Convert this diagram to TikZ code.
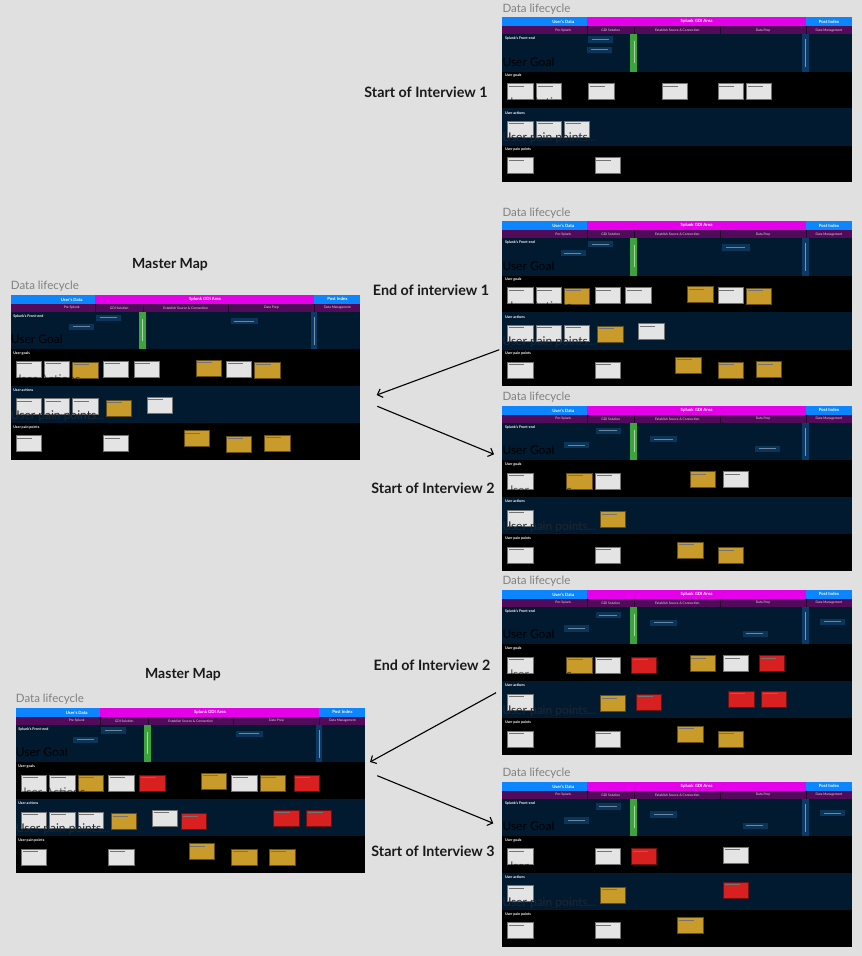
\documentclass[tikz,border=0pt]{standalone}
\usepackage{fontspec}
\setmainfont{Lato}
\usetikzlibrary{arrows.meta}
\definecolor{bg}{HTML}{E0E0E0}
\definecolor{hblue}{HTML}{0D85FF}
\definecolor{hmag}{HTML}{E400E8}
\definecolor{hpur}{HTML}{520A5A}
\definecolor{navy}{HTML}{021A2F}
\definecolor{navyb}{HTML}{0A3558}
\definecolor{sgray}{HTML}{E4E4E4}
\definecolor{sgold}{HTML}{C99B2B}
\definecolor{sred}{HTML}{D82020}
\definecolor{gbar}{HTML}{3DA33D}
\definecolor{vbar}{HTML}{0B3A66}
\definecolor{ghostp}{HTML}{1E2731}
\newcounter{nn}
\tikzset{
 stk/.style={rectangle, line width=0.5pt, minimum width=25.3pt, minimum height=16pt, anchor=north west, inner sep=0pt},
 sline/.style={line width=0.35pt, draw=black!55},
 fe/.style={rectangle, fill=navyb, minimum height=6.5pt, anchor=north west, inner sep=0pt},
 fline/.style={line width=0.3pt, draw=white!40!navyb},
 hdr/.style={text=white, font=\fontsize{4.3}{5}\selectfont\bfseries, inner sep=0pt},
 subh/.style={text=white!85!hpur, font=\fontsize{3.3}{4}\selectfont, inner sep=0pt},
 rowlab/.style={text=white, font=\fontsize{3.6}{4}\selectfont\bfseries, anchor=west, inner sep=0pt},
 ghost/.style={font=\fontsize{12}{14}\selectfont, anchor=west, inner sep=0pt},
 ptitle/.style={text=black!50, font=\fontsize{11.5}{13}\selectfont, anchor=west, inner sep=0pt},
 lab/.style={text=black!90, font=\fontsize{14.3}{16}\selectfont\bfseries, inner sep=0pt},
 mlab/.style={text=black!90, font=\fontsize{14}{16}\selectfont\bfseries, inner sep=0pt},
 flow/.style={line width=1.1pt, -{Straight Barb[length=4.5pt,width=9pt]}},
}
\newcommand\stk[3]{\stepcounter{nn}\node[stk,fill=#1,draw=#1!50!black] (s\arabic{nn}) at (#2,#3) {};\draw[sline] ([shift={(1.5pt,-2.5pt)}]s\arabic{nn}.north west) -- ++(15,0);}
\newcommand\sG[2]{\stk{sgray}{#1}{#2}}
\newcommand\sY[2]{\stk{sgold}{#1}{#2}}
\newcommand\sR[2]{\stk{sred}{#1}{#2}}
\newcommand\sF[3][25]{\stepcounter{nn}\node[fe,minimum width=#1pt] (f\arabic{nn}) at (#2,#3) {};\draw[fline] ([shift={(4pt,-3.25pt)}]f\arabic{nn}.north west) -- ++({#1-8},0);}
\newcommand\lifepanel[4]{%
\begin{scope}[shift={(#1,#2)}]
 \node[ptitle] (#3-t) at (0,-8.5) {Data lifecycle};
 \fill[hblue] (0,0) rectangle (349.7,8.7);
 \fill[hmag] (84.7,0) rectangle (303.7,8.7);
 \fill[hpur] (0,8.7) rectangle (349.7,17);
 \draw[black!55!hpur, line width=0.4pt] (84.7,8.7) -- (84.7,17) (132.3,8.7) -- (132.3,17) (217.7,8.7) -- (217.7,17) (303.7,8.7) -- (303.7,17);
 \fill[navy] (0,17) rectangle (349.7,54.3);
 \fill[black] (0,54.3) rectangle (349.7,91);
 \fill[navy] (0,91) rectangle (349.7,128.3);
 \fill[black] (0,128.3) rectangle (349.7,165);
 \fill[gbar] (128,17) rectangle (135,54.3);
 \draw[white!55!gbar, line width=0.3pt] (131.5,24) -- (131.5,46);
 \fill[vbar] (300,17) rectangle (306.7,54.3);
 \draw[white!45!vbar, line width=0.3pt] (303.3,22) -- (303.3,50);
 \node[hdr] (#3-ud) at (61,4.4) {User's Data};
 \node[hdr] (#3-ga) at (194.3,4.4) {Splunk GDI Area};
 \node[hdr] (#3-pi) at (326.7,4.4) {Post Index};
 \node[subh] (#3-ps) at (61,12.9) {Pre-Splunk};
 \node[subh] (#3-gs) at (108.5,12.9) {GDI Solution};
 \node[subh] (#3-es) at (175,12.9) {Establish Source \& Connection};
 \node[subh] (#3-dp) at (260.7,12.9) {Data Prep};
 \node[subh] (#3-dm) at (326.7,12.9) {Data Management};
 \node[rowlab] (#3-rf) at (2.5,21) {Splunk's Front-end};
 \node[rowlab] (#3-rg) at (2.5,58.5) {User goals};
 \node[rowlab] (#3-ra) at (2.5,95.5) {User actions};
 \node[rowlab] (#3-rp) at (2.5,132.5) {User pain points};
 \node[ghost,text=black] (#3-xg) at (0,44.5) {User Goal};
 #4
 \node[ghost,text=black,opacity=0.6] (#3-xa) at (2,84.5) {User Actions};
 \node[ghost,text=ghostp] (#3-xp) at (0,121) {User pain points...};
\end{scope}}
\begin{document}
\begin{tikzpicture}[x=1pt,y=-1pt]
\fill[bg] (0,0) rectangle (862,956);
\useasboundingbox (0,0) rectangle (862,956);
% Right panel 1
\lifepanel{502.3}{17.3}{r1}{%
 \sF{85.3}{18.7}\sF{84.7}{29}
 \sG{5}{66}\sG{33.7}{66}\sG{86}{66}\sG{159.3}{66}\sG{215.3}{66}\sG{243.7}{66}
 \sG{5}{103.3}\sG{33.7}{103.3}\sG{61.7}{103.3}
 \sG{5}{140}\sG{92.3}{140}}
% Right panel 2
\lifepanel{502.3}{221.3}{r2}{%
 \sF{85.3}{19.3}\sF{58}{28.3}\sF[27.3]{219.7}{22.7}
 \sG{5}{66}\sG{33.3}{66}\sY{61.7}{66.7}\sG{92.3}{66}\sG{123}{66}\sY{185}{65}\sG{215.3}{66}\sY{243.7}{66.7}
 \sG{5}{103.3}\sG{33.3}{103.3}\sG{61.7}{103.3}\sY{95}{104.7}\sG{136}{102}
 \sG{5}{140.3}\sG{92.3}{140.3}\sY{173}{135.3}\sY{215.3}{140.7}\sY{253.7}{140}}
% Master map 1
\lifepanel{10.7}{295}{m1}{%
 \sF{85.3}{19.3}\sF{58}{28.3}\sF[27.3]{219.7}{22.7}
 \sG{5}{66}\sG{33.3}{66}\sY{61.7}{66.7}\sG{92.3}{66}\sG{123}{66}\sY{185}{65}\sG{215.3}{66}\sY{243.7}{66.7}
 \sG{5}{103.3}\sG{33.3}{103.3}\sG{61.7}{103.3}\sY{95}{104.7}\sG{136}{102}
 \sG{5}{140.3}\sG{92.3}{140.3}\sY{173}{135.3}\sY{215.3}{140.7}\sY{253.7}{140}}
% Right panel 3
\lifepanel{502.3}{406}{r3}{%
 \sF[25.3]{93}{21.3}\sF{61.7}{35.7}\sF[26.7]{147.7}{29.7}\sF{252.7}{39.3}
 \sG{5}{67}\sY{64}{67}\sG{92.7}{67}\sY{187.3}{65.3}\sG{220.7}{65.3}
 \sG{5}{104}\sY{97.7}{105.3}
 \sG{5}{141}\sG{92.3}{141}\sY{175}{136}\sY{215.3}{141.3}}
% Right panel 4
\lifepanel{502.3}{590}{r4}{%
 \sF[25.3]{93}{21.7}\sF{61.7}{35}\sF[26.7]{147.7}{29.3}\sF{240}{40.3}\sF{317.7}{28.3}
 \sG{5}{67}\sY{64}{67}\sG{92.7}{67}\sR{128.7}{67}\sY{187.3}{65.3}\sG{220.7}{65.3}\sR{256.7}{65.3}
 \sG{5}{104}\sY{97.7}{105.3}\sR{133.7}{104}\sR{226}{101}\sR{258.7}{101}
 \sG{5}{141}\sG{92.3}{141}\sY{175}{136}\sY{215.3}{141}}
% Right panel 5
\lifepanel{502.3}{782}{r5}{%
 \sF[25.3]{93}{21}\sF{61.7}{35}\sF[26.7]{147.7}{29}\sF{240}{40.3}\sF{317.7}{27.7}
 \sG{5}{66.3}\sG{92.7}{66.3}\sR{128.7}{66.3}\sG{220.7}{64.7}
 \sG{5}{103.3}\sY{97.7}{105}\sR{220.7}{100}
 \sG{5}{140.3}\sG{92.3}{140.3}\sY{175}{135.3}}
% Master map 2
\lifepanel{15.7}{708}{m2}{%
 \sF{85.3}{19}\sF{57.3}{28.3}\sF[27.3]{219.7}{22.3}
 \sG{5.3}{66.7}\sG{33.7}{66.7}\sY{62}{66.7}\sG{92.7}{66.7}\sR{123.7}{66.7}\sY{185.3}{65}\sG{215.7}{66.7}\sY{244}{66.7}\sR{278}{66.7}
 \sG{5.3}{104}\sG{33.7}{104}\sG{62}{104}\sY{95.3}{105.3}\sG{136.3}{102}\sR{165.3}{105.3}\sR{257.7}{102}\sR{290.3}{102}
 \sG{5.3}{140.7}\sG{92.7}{140.7}\sY{173}{135.3}\sY{215.7}{140.7}\sY{253.7}{140.7}}
% Labels
\node[lab] (l1) at (426,92) {Start of Interview 1};
\node[lab] (l2) at (431,290) {End of interview 1};
\node[lab] (l3) at (433,488) {Start of Interview 2};
\node[lab] (l4) at (432,665) {End of Interview 2};
\node[lab] (l5) at (433,851) {Start of Interview 3};
\node[mlab] (mm1) at (170,265) {Master Map};
\node[mlab] (mm2) at (183,675) {Master Map};
% Arrows
\coordinate (a1s) at (499.3,349.7);
\coordinate (a1e) at (376.7,395);
\coordinate (a2s) at (377.3,406.3);
\coordinate (a2e) at (494,454.3);
\coordinate (a3s) at (496,692.7);
\coordinate (a3e) at (370,762);
\coordinate (a4s) at (377.3,775.7);
\coordinate (a4e) at (493.3,823.3);
\draw[flow] (a1s) -- (a1e);
\draw[flow] (a2s) -- (a2e);
\draw[flow] (a3s) -- (a3e);
\draw[flow] (a4s) -- (a4e);
\end{tikzpicture}
\end{document}
